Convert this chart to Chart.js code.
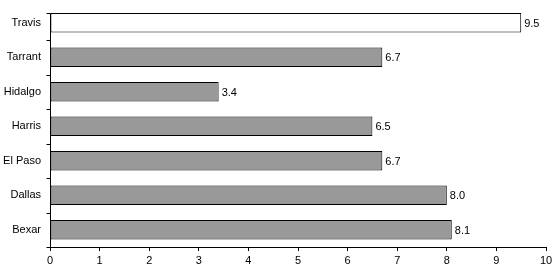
<!DOCTYPE html>
<html>
<head>
<meta charset="utf-8">
<script src="https://cdn.jsdelivr.net/npm/chart.js@4/dist/chart.umd.min.js"></script>
<style>
html,body{margin:0;padding:0;background:#fff;}
#wrap{width:560px;height:279px;}
</style>
</head>
<body>
<div id="wrap"><canvas id="c" width="560" height="279"></canvas></div>
<script>
const categories = ["Travis", "Tarrant", "Hidalgo", "Harris", "El Paso", "Dallas", "Bexar"];
const values = [9.5, 6.7, 3.4, 6.5, 6.7, 8.0, 8.1];
const barColors = ["#ffffff", "#999999", "#999999", "#999999", "#999999", "#999999", "#999999"];
const xTicks = [0, 1, 2, 3, 4, 5, 6, 7, 8, 9, 10];

const FONT = {family: "'Liberation Sans', Arial, sans-serif", size: 11};

const valueLabels = {
  id: 'valueLabels',
  afterDatasetsDraw(chart) {
    const ctx = chart.ctx;
    const meta = chart.getDatasetMeta(0);
    const xs = chart.scales.x;
    const ys = chart.scales.y;
    ctx.save();
    const left = Math.round(chart.chartArea.left) + 0.5;
    const bottom = chart.chartArea.bottom;
    const axisTop = Math.round(ys.getPixelForValue(-0.28)) + 0.5;
    ctx.strokeStyle = '#000';
    ctx.lineWidth = 1;
    ctx.beginPath();
    ctx.moveTo(left, axisTop);
    ctx.lineTo(left, bottom);
    ctx.moveTo(left - 4, axisTop);
    ctx.lineTo(left, axisTop);
    for (let i = 1; i <= categories.length; i++) {
      const y = Math.round(ys.getPixelForValue(i - 0.5)) + 0.5;
      ctx.moveTo(left - 4, y);
      ctx.lineTo(left, y);
    }
    ctx.stroke();
    ctx.fillStyle = '#000';
    ctx.font = FONT.size + 'px ' + FONT.family;
    ctx.textBaseline = 'middle';
    ctx.textAlign = 'left';
    meta.data.forEach((bar, i) => {
      const v = values[i];
      ctx.fillText(v.toFixed(1), xs.getPixelForValue(v) + 3, bar.y + 1);
    });
    ctx.restore();
  }
};

new Chart(document.getElementById('c'), {
  type: 'bar',
  data: {
    labels: categories,
    datasets: [{
      data: values,
      backgroundColor: barColors,
      borderColor: '#000',
      borderWidth: 1,
      borderSkipped: false,
      barPercentage: 0.56,
      categoryPercentage: 1.0
    }]
  },
  options: {
    indexAxis: 'y',
    responsive: false,
    animation: false,
    devicePixelRatio: 1,
    layout: {padding: {top: 5.5, right: 14, left: 0, bottom: 0}},
    plugins: {legend: {display: false}, tooltip: {enabled: false}},
    scales: {
      x: {
        type: 'linear',
        min: 0,
        max: 10,
        afterBuildTicks(scale) { scale.ticks = xTicks.map(v => ({value: v})); },
        afterFit(scale) { scale.height = 32; },
        grid: {drawOnChartArea: false, drawTicks: true, tickLength: 4, color: '#000'},
        border: {display: true, color: '#000', width: 1},
        ticks: {color: '#000', font: FONT, padding: 3, maxRotation: 0}
      },
      y: {
        type: 'category',
        offset: true,
        afterFit(scale) { scale.width = 50; scale.paddingTop = 0; scale.paddingBottom = 0; },
        grid: {display: false, drawTicks: true, tickLength: 4},
        border: {display: false},
        ticks: {color: '#000', font: FONT, padding: 5}
      }
    }
  },
  plugins: [valueLabels]
});
</script>
</body>
</html>
